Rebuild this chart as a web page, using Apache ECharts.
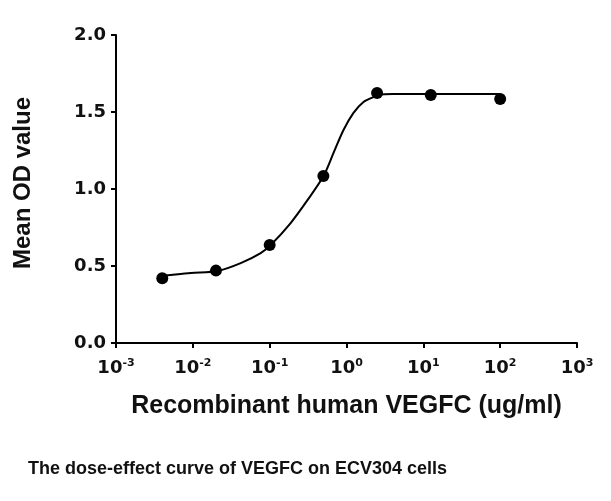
<!DOCTYPE html>
<html>
<head>
<meta charset="utf-8">
<script src="https://cdn.jsdelivr.net/npm/echarts@6/dist/echarts.min.js"></script>
<style>
html,body{margin:0;padding:0;background:#fff;}
#c{width:611px;height:501px;}
</style>
</head>
<body>
<div id="c"></div>
<script>
// Measured data points (dose in ug/ml, mean OD)
const doses = [0.004, 0.02, 0.1, 0.5, 2.5, 12.5, 100];
const meanOD = [0.42, 0.47, 0.636, 1.084, 1.623, 1.61, 1.584];
// Fitted curve, read point-by-point from the picture
const curveX = [0.0042, 0.00518, 0.00942, 0.0211, 0.042, 0.0764, 0.103, 0.1875, 0.312, 0.502, 0.678, 0.914, 1.233, 1.663, 2.244, 2.606, 4.0, 12.7, 100];
const curveY = [0.437, 0.442, 0.455, 0.468, 0.519, 0.584, 0.636, 0.779, 0.929, 1.084, 1.234, 1.383, 1.494, 1.565, 1.597, 1.612, 1.617, 1.617, 1.617];
const yTicks = [0, 0.5, 1.0, 1.5, 2.0];

const chart = echarts.init(document.getElementById('c'));
const font = 'Liberation Sans, Arial, sans-serif';
const tickFont = 'DejaVu Sans, sans-serif';
chart.setOption({
  animation: false,
  backgroundColor: '#fff',
  grid: {left: 116, right: 34, top: 35, bottom: 158},
  title: {
    text: 'The dose-effect curve of VEGFC on ECV304 cells',
    left: 23, top: 455,
    textStyle: {fontFamily: font, fontWeight: 'bold', fontSize: 18, color: '#111'}
  },
  xAxis: {
    type: 'log', logBase: 10, min: 0.001, max: 1000,
    name: 'Recombinant human VEGFC (ug/ml)',
    nameLocation: 'middle', nameGap: 51,
    nameTextStyle: {fontFamily: font, fontWeight: 'bold', fontSize: 25, color: '#111'},
    axisLine: {lineStyle: {color: '#000', width: 2}},
    axisTick: {show: true, length: 5, lineStyle: {color: '#000', width: 2}},
    splitLine: {show: false},
    minorTick: {show: false},
    axisLabel: {
      margin: 15,
      formatter: function (v) {
        const e = Math.round(Math.log10(v));
        return '{b|10}{s|' + e + '}';
      },
      rich: {
        b: {fontFamily: tickFont, fontWeight: 'bold', fontSize: 18, color: '#111', verticalAlign: 'bottom'},
        s: {fontFamily: tickFont, fontWeight: 'bold', fontSize: 11, color: '#111', verticalAlign: 'top', padding: [0, 0, 8, 0]}
      }
    }
  },
  yAxis: {
    type: 'value', min: 0, max: 2, interval: 0.5,
    name: 'Mean OD value',
    nameLocation: 'middle', nameGap: 81,
    nameTextStyle: {fontFamily: font, fontWeight: 'bold', fontSize: 24, color: '#111', padding: [0, 0, 0, 12]},
    axisLine: {show: true, lineStyle: {color: '#000', width: 2}},
    axisTick: {show: true, length: 5, lineStyle: {color: '#000', width: 2}},
    splitLine: {show: false},
    axisLabel: {
      margin: 10,
      fontFamily: tickFont, fontWeight: 'bold', fontSize: 18, color: '#111',
      formatter: function (v) { return v.toFixed(1); }
    }
  },
  series: [
    {
      type: 'line',
      data: curveX.map((x, i) => [x, curveY[i]]),
      smooth: 0.3,
      showSymbol: false,
      lineStyle: {color: '#000', width: 2},
      z: 2
    },
    {
      type: 'scatter',
      data: doses.map((x, i) => [x, meanOD[i]]),
      symbol: 'circle',
      symbolSize: 12,
      itemStyle: {color: '#000', opacity: 1},
      z: 3
    }
  ]
});
</script>
</body>
</html>
